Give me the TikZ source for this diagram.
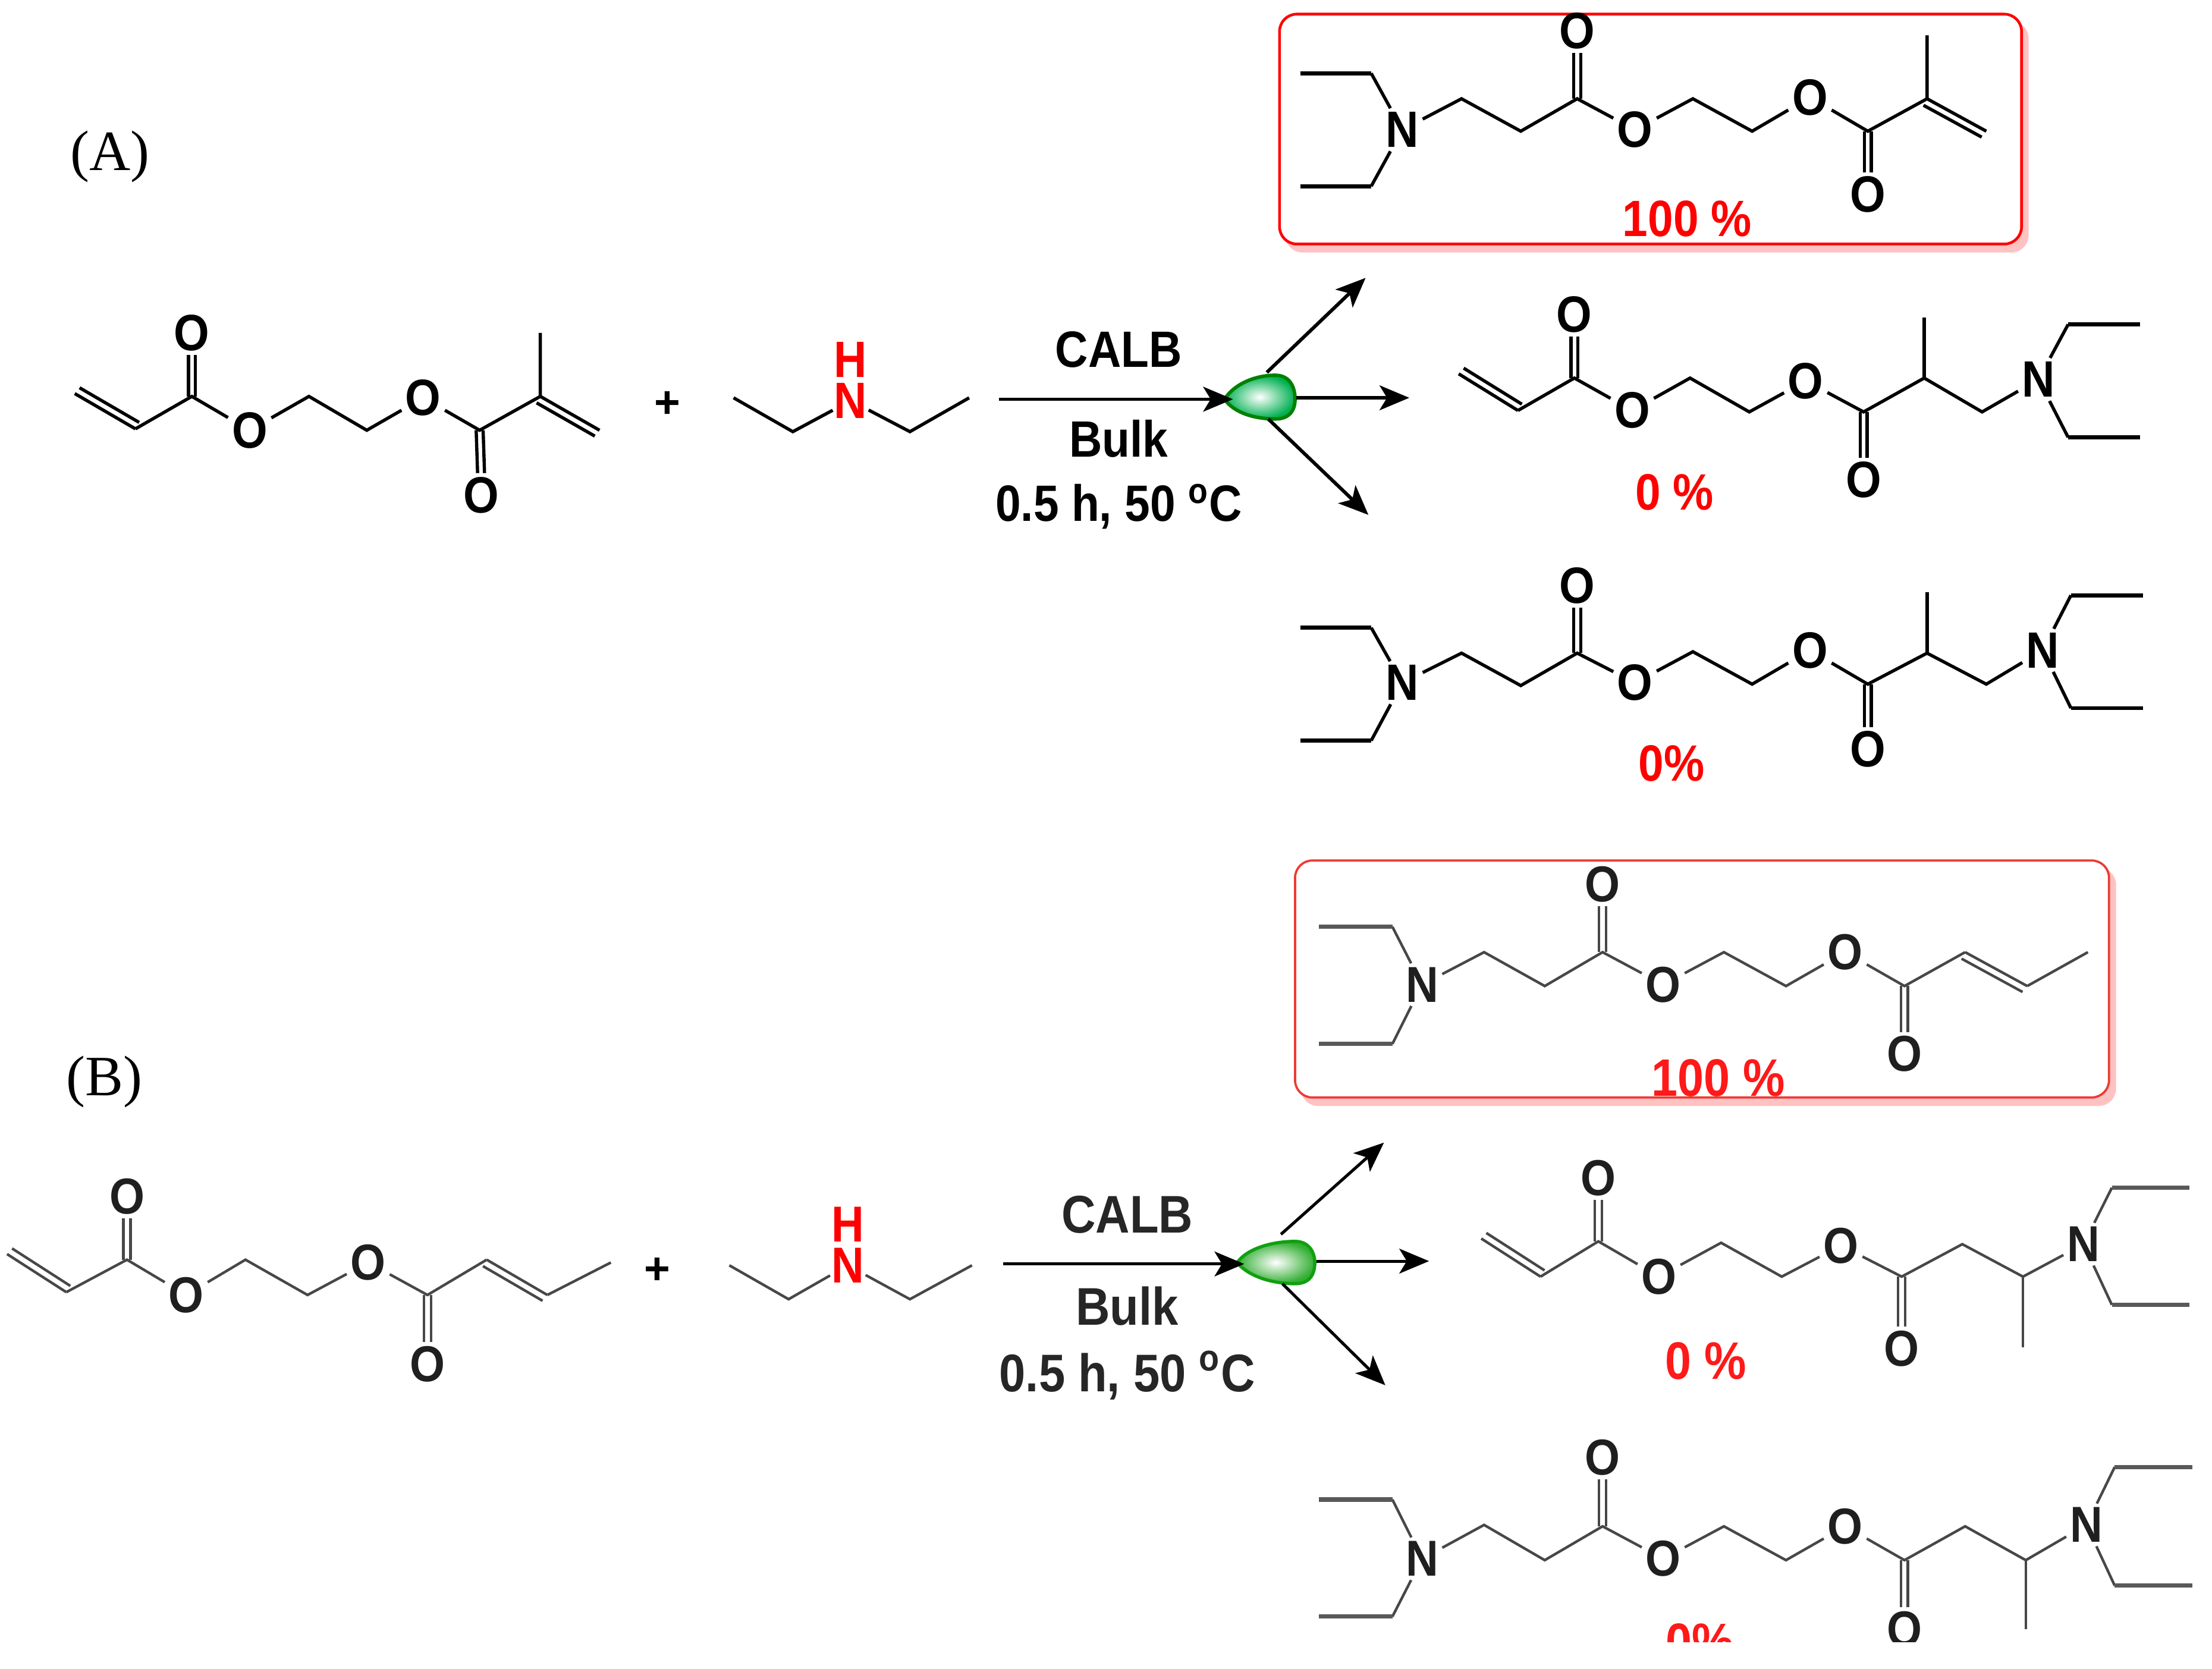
\documentclass[tikz,border=0pt]{standalone}
\usepackage{fontspec}
\usepackage{graphicx}
\setmainfont{Liberation Sans}
\newfontfamily\serifA{Liberation Serif}
\usetikzlibrary{calc,arrows.meta}
\definecolor{pinksh}{HTML}{FFC2C2}
\definecolor{gA}{HTML}{008000}
\definecolor{gAf}{HTML}{00B050}
\definecolor{gB}{HTML}{10A010}
\definecolor{boxB}{HTML}{EE3B33}
\newcommand\stA[1]{\scalebox{1}[1.12]{#1}}
\newcommand\C[2]{\coordinate (#1) at (#2);}
\newcommand\At[3]{\node[atom] (#1) at (#2) {\stA{#3}};}
\newcommand\Ch[1]{\draw[bond] #1;}
\newcommand\Et[3]{\draw[bond] (#1) -- (#2); \draw[hbar] (#2) -- (#3);}
\newcommand\VD[2]{\draw[bond] ([xshift=-1.4pt]#1) -- ([xshift=-1.4pt]#2); \draw[bond] ([xshift=1.4pt]#1) -- ([xshift=1.4pt]#2);}
\newcommand\CC[2]{\draw[bond] (#1) -- (#2); \draw[bond,shorten >=0.5pt] ($(#1)!3pt!-90:(#2)$) -- ($(#2)!3pt!90:(#1)$);}
\tikzset{
 x=0.02cm,y=-0.02cm,
 atomA/.style={inner sep=1.4pt,font=\bfseries\fontsize{18.4}{20}\selectfont},
 atomB/.style={inner sep=1.4pt,text=black!88,font=\bfseries\fontsize{18.2}{21}\selectfont},
 molA/.style={atom/.style={atomA},bond/.style={line width=1.3pt,black,line join=miter},hbar/.style={line width=1.6pt,black}},
 molB/.style={atom/.style={atomB},bond/.style={line width=1.05pt,black!72,line join=miter},hbar/.style={line width=1.7pt,black!65}},
 lblA/.style={font=\bfseries\fontsize{18.4}{20}\selectfont},
 lblB/.style={text=black!85,font=\bfseries\fontsize{19.1}{21}\selectfont},
 redA/.style={lblA,text=red},
 redB/.style={font=\bfseries\fontsize{19}{21}\selectfont,text=red!90!white},
 panel/.style={font=\serifA\fontsize{23}{25}\selectfont},
 arrA/.style={line width=1.4pt,-{Stealth[length=12pt,width=10pt,inset=3pt]}},
 arrB/.style={line width=1.2pt,black,-{Stealth[length=12pt,width=10pt,inset=3pt]}},
}
\begin{document}
\begin{tikzpicture}
\useasboundingbox (0,0) rectangle (1568,1182.8);
\fill[white] (0,0) rectangle (1568,1182.8);

\node[panel] (pa) at (78,111) {(A)};
\node[panel] (pb) at (74,767) {(B)};

% boxes
\fill[pinksh,rounded corners=7pt] (911,15) rectangle (1438,179);
\draw[red,line width=1.1pt,fill=white,rounded corners=7pt] (907,10) rectangle (1433,173);
\fill[pinksh,rounded corners=7pt] (922,615) rectangle (1500,784);
\draw[boxB,line width=0.9pt,fill=white,rounded corners=7pt] (918,610) rectangle (1495,778);

% ===== A reactant
\begin{scope}[name prefix=ra-,molA]
\C{v}{53,279}\C{a}{96,304}\C{c}{136,281}\At{o}{136,236}{O}\At{e}{177,305}{O}
\C{p}{219,281}\C{q}{260,305}\At{f}{300,282}{O}\C{d}{340,305}\At{g}{341,351}{O}
\C{h}{383,281}\C{m}{383,236}\C{w}{425,305}
\CC{a}{v}\Ch{(a)--(c)--(e)--(p)--(q)--(f)--(d)--(h)--(m)}\VD{c}{o.south}\VD{d}{g.north}\CC{h}{w}
\end{scope}
\node[font=\bfseries\fontsize{18}{20}\selectfont] (pl1) at (473,287) {+};
\begin{scope}[name prefix=am-,molA]
\C{a}{520,282}\C{b}{562,306}\node[atom,text=red,inner sep=0.4pt] (n) at (603,284) {\stA{N}};\node[atom,text=red,inner sep=0pt] (h) at (603,255) {\stA{H}};
\C{c}{645,306}\C{d}{687,282}
\Ch{(a)--(b)--(n)--(c)--(d)}
\end{scope}

% ===== A1
\begin{scope}[name prefix=a1-,molA]
\At{n}{994,92}{N}\C{t}{972,52}\C{ta}{922,52}\C{u}{972,132}\C{ua}{922,132}
\C{p}{1036,70}\C{q}{1078,93}\C{c}{1118,70}\At{o}{1118,22}{O}\At{e}{1159,92}{O}
\C{r}{1200,70}\C{s}{1242,93}\At{f}{1283,69}{O}\C{d}{1324,93}\At{g}{1324,138}{O}
\C{h}{1366,70}\C{m}{1366,25}\C{w}{1408,93}
\Et{n}{t}{ta}\Et{n}{u}{ua}
\Ch{(n)--(p)--(q)--(c)--(e)--(r)--(s)--(f)--(d)--(h)--(m)}\VD{c}{o.south}\VD{d}{g.north}\CC{h}{w}
\end{scope}
\node[redA] (y1) at (1196,155) {\stA{100 \%}};

% ===== A2
\begin{scope}[name prefix=a2-,molA]
\C{v}{1034,265}\C{a}{1076,291}\C{c}{1116,268}\At{o}{1116,223}{O}\At{e}{1157,291}{O}
\C{r}{1198,268}\C{s}{1240,292}\At{f}{1280,270}{O}\C{d}{1321,292}\At{g}{1321,340}{O}
\C{h}{1364,268}\C{m}{1364,225}\C{k}{1405,292}\At{n}{1445,269}{N}
\C{t}{1466,230}\C{ta}{1517,230}\C{u}{1466,310}\C{ua}{1517,310}
\CC{a}{v}\Ch{(a)--(c)--(e)--(r)--(s)--(f)--(d)--(h)--(k)--(n)}\Ch{(h)--(m)}\VD{c}{o.south}\VD{d}{g.north}
\Et{n}{t}{ta}\Et{n}{u}{ua}
\end{scope}
\node[redA] (y2) at (1187,349) {\stA{0 \%}};

% ===== A3
\begin{scope}[name prefix=a3-,molA]
\At{n}{994,484}{N}\C{t}{972,445}\C{ta}{922,445}\C{u}{972,525}\C{ua}{922,525}
\C{p}{1036,463}\C{q}{1078,486}\C{c}{1118,463}\At{o}{1118,415}{O}\At{e}{1159,484}{O}
\C{r}{1200,462}\C{s}{1242,485}\At{f}{1283,461}{O}\C{d}{1324,485}\At{g}{1324,531}{O}
\C{h}{1366,463}\C{m}{1366,420}\C{k}{1408,485}\At{z}{1448,461}{N}
\C{v}{1468,422}\C{va}{1519,422}\C{w}{1468,502}\C{wa}{1519,502}
\Et{n}{t}{ta}\Et{n}{u}{ua}
\Ch{(n)--(p)--(q)--(c)--(e)--(r)--(s)--(f)--(d)--(h)--(k)--(z)}\Ch{(h)--(m)}\VD{c}{o.south}\VD{d}{g.north}
\Et{z}{v}{va}\Et{z}{w}{wa}
\end{scope}
\node[redA] (y3) at (1185,541) {\stA{0\%}};

% ===== A arrows
\path[draw=gA,line width=1.4pt,shade,inner color=white,outer color=gAf,line join=round]
 (868,283) .. controls (875,272) and (890,266) .. (904,266) .. controls (914,266) and (918,274) .. (918,283) .. controls (918,291) and (914,297) .. (904,297) .. controls (890,297) and (875,293) .. (868,283) -- cycle;
\coordinate (aS) at (708,283);\coordinate (aE) at (874,283);
\coordinate (a1s) at (898,264);\coordinate (a1e) at (968,197);
\coordinate (a2s) at (919,282);\coordinate (a2e) at (999,282);
\coordinate (a3s) at (899,297);\coordinate (a3e) at (970,365);
\draw[arrA] (aS) -- (aE);
\draw[arrA] (a1s) -- (a1e);
\draw[arrA] (a2s) -- (a2e);
\draw[arrA] (a3s) -- (a3e);
\node[lblA] (ca) at (793,248) {\stA{CALB}};
\node[lblA] (ba) at (793,311) {\stA{Bulk}};
\node[lblA] (ta) at (793,359) {\stA{0.5 h, 50 \textsuperscript{o}C}};

% ===== B reactant
\begin{scope}[name prefix=rb-,molB]
\C{v}{5,889}\C{a}{47,916}\C{c}{90,893}\At{o}{90,848}{O}\At{e}{132,918}{O}
\C{p}{174,893}\C{q}{218,918}\At{f}{261,895}{O}\C{d}{303,918}\At{g}{303,967}{O}
\C{h}{345,893}\C{j}{388,918}\C{m}{433,895}
\CC{a}{v}\Ch{(a)--(c)--(e)--(p)--(q)--(f)--(d)--(h)}\VD{c}{o.south}\VD{d}{g.north}\CC{h}{j}\Ch{(j)--(m)}
\end{scope}
\node[font=\bfseries\fontsize{18}{20}\selectfont] (pl2) at (466,901) {+};
\begin{scope}[name prefix=bm-,molB]
\C{a}{517,897}\C{b}{559,921}\node[atom,text=red,inner sep=0.4pt] (n) at (601,897) {\stA{N}};\node[atom,text=red,inner sep=0pt] (h) at (601,868) {\stA{H}};
\C{c}{645,921}\C{d}{689,897}
\Ch{(a)--(b)--(n)--(c)--(d)}
\end{scope}

% ===== B1
\begin{scope}[name prefix=b1-,molB]
\At{n}{1008,698}{N}\C{t}{987,657}\C{ta}{935,657}\C{u}{987,740}\C{ua}{935,740}
\C{p}{1052,675}\C{q}{1095,699}\C{c}{1136,675}\At{o}{1136,627}{O}\At{e}{1179,698}{O}
\C{r}{1222,675}\C{s}{1266,699}\At{f}{1308,675}{O}\C{d}{1350,699}\At{g}{1350,747}{O}
\C{h}{1393,675}\C{j}{1437,699}\C{m}{1480,675}
\Et{n}{t}{ta}\Et{n}{u}{ua}
\Ch{(n)--(p)--(q)--(c)--(e)--(r)--(s)--(f)--(d)--(h)}\VD{c}{o.south}\VD{d}{g.north}\CC{h}{j}\Ch{(j)--(m)}
\end{scope}
\node[redB] (y4) at (1218,764) {\stA{100 \%}};

% ===== B2
\begin{scope}[name prefix=b2-,molB]
\C{v}{1050,878}\C{a}{1092,905}\C{c}{1133,880}\At{o}{1133,835}{O}\At{e}{1176,905}{O}
\C{r}{1220,881}\C{s}{1263,905}\At{f}{1305,883}{O}\C{d}{1348,905}\At{g}{1348,956}{O}
\C{h}{1391,882}\C{k}{1434,905}\C{m}{1434,955}\At{n}{1477,882}{N}
\C{t}{1497,842}\C{ta}{1552,842}\C{u}{1497,925}\C{ua}{1552,925}
\CC{a}{v}\Ch{(a)--(c)--(e)--(r)--(s)--(f)--(d)--(h)--(k)--(n)}\Ch{(k)--(m)}\VD{c}{o.south}\VD{d}{g.north}
\Et{n}{t}{ta}\Et{n}{u}{ua}
\end{scope}
\node[redB] (y5) at (1209,965) {\stA{0 \%}};

% ===== B3
\begin{scope}[name prefix=b3-,molB]
\At{n}{1008,1105}{N}\C{t}{987,1063}\C{ta}{935,1063}\C{u}{987,1146}\C{ua}{935,1146}
\C{p}{1052,1081}\C{q}{1095,1106}\C{c}{1136,1082}\At{o}{1136,1033}{O}\At{e}{1179,1105}{O}
\C{r}{1222,1082}\C{s}{1266,1106}\At{f}{1308,1082}{O}\C{d}{1350,1106}\At{g}{1350,1155}{O}
\C{h}{1393,1082}\C{k}{1436,1106}\C{m}{1436,1155}\At{z}{1479,1081}{N}
\C{v}{1499,1040}\C{va}{1554,1040}\C{w}{1499,1124}\C{wa}{1554,1124}
\Et{n}{t}{ta}\Et{n}{u}{ua}
\Ch{(n)--(p)--(q)--(c)--(e)--(r)--(s)--(f)--(d)--(h)--(k)--(z)}\Ch{(k)--(m)}\VD{c}{o.south}\VD{d}{g.north}
\Et{z}{v}{va}\Et{z}{w}{wa}
\end{scope}
\node[redB] (y6) at (1205,1164) {\stA{0\%}};
\fill[white] (900,1164) rectangle (1568,1182.8);

% ===== B arrows
\path[draw=gB,line width=1.3pt,shade,inner color=white,outer color=gB!85!white,line join=round]
 (877,895) .. controls (884,885) and (902,880) .. (918,880) .. controls (928,880) and (932,888) .. (932,895) .. controls (932,904) and (928,910) .. (918,910) .. controls (902,910) and (885,905) .. (877,895) -- cycle;
\coordinate (bS) at (711,896);\coordinate (bE) at (882,896);
\coordinate (b1s) at (908,875);\coordinate (b1e) at (981,810);
\coordinate (b2s) at (933,894);\coordinate (b2e) at (1013,894);
\coordinate (b3s) at (909,910);\coordinate (b3e) at (982,982);
\draw[arrB] (bS) -- (bE);
\draw[arrB] (b1s) -- (b1e);
\draw[arrB] (b2s) -- (b2e);
\draw[arrB] (b3s) -- (b3e);
\node[lblB] (cb) at (799,861) {\stA{CALB}};
\node[lblB] (bb) at (799,926) {\stA{Bulk}};
\node[lblB] (tb) at (799,975) {\stA{0.5 h, 50 \textsuperscript{o}C}};
\end{tikzpicture}
\end{document}
